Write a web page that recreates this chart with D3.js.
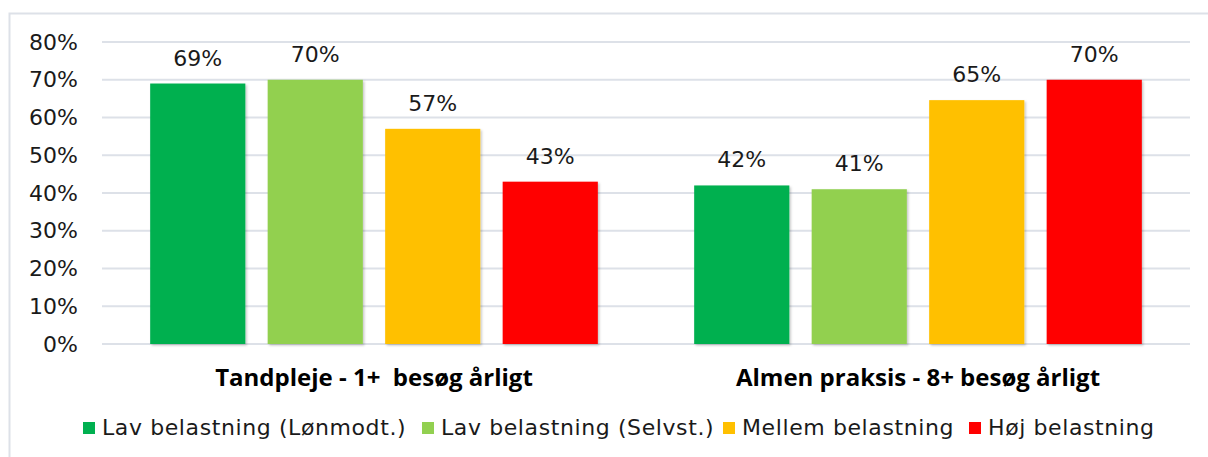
<!DOCTYPE html>
<html>
<head>
<meta charset="utf-8">
<script src="https://cdn.jsdelivr.net/npm/d3@7"></script>
<style>
  body { margin: 0; background: #fff; }
  svg { display: block; }
</style>
</head>
<body>
<div id="chart"></div>
<script>
  const width = 1208, height = 457;

  // data
  const categories = ["Tandpleje - 1+  besøg årligt", "Almen praksis - 8+ besøg årligt"];
  const series = ["Lav belastning (Lønmodt.)", "Lav belastning (Selvst.)", "Mellem belastning", "Høj belastning"];
  const colors = ["#00b050", "#92d050", "#ffc000", "#ff0000"];
  const values = [
    [69, 70, 57, 43],
    [42, 41, 64.6, 70]
  ];
  const yTicks = [0, 10, 20, 30, 40, 50, 60, 70, 80];
  const legendX = [83, 422, 723, 969];

  const margin = { top: 42, right: 18, bottom: 113, left: 102 };
  const numFont = '"DejaVu Sans", sans-serif';

  const svg = d3.select('#chart')
    .append('svg')
    .attr('width', width)
    .attr('height', height)
    .style('font-family', '"Open Sans", sans-serif');

  const defs = svg.append('defs');
  const f = defs.append('filter').attr('id', 'shadow')
    .attr('x', '-10%').attr('y', '-10%').attr('width', '130%').attr('height', '130%');
  f.append('feDropShadow').attr('dx', 1.5).attr('dy', 1.5).attr('stdDeviation', 1.2)
    .attr('flood-color', '#000').attr('flood-opacity', 0.22);

  // outer frame
  svg.append('rect')
    .attr('x', 9.5).attr('y', 13.5)
    .attr('width', width).attr('height', height)
    .attr('fill', 'none').attr('stroke', '#dde1e8').attr('stroke-width', 2);

  const x0 = d3.scaleBand()
    .domain(categories)
    .range([margin.left, width - margin.right]);

  const x1 = d3.scaleBand()
    .domain(series)
    .range([0, x0.bandwidth()])
    .paddingInner(0.19)
    .paddingOuter(0.41);

  const y = d3.scaleLinear()
    .domain([0, 80])
    .range([height - margin.bottom, margin.top]);

  // gridlines
  svg.append('g')
    .selectAll('line')
    .data(yTicks)
    .join('line')
    .attr('x1', margin.left).attr('x2', width - margin.right)
    .attr('y1', d => y(d)).attr('y2', d => y(d))
    .attr('stroke', '#dde1e8').attr('stroke-width', 2);

  // y axis labels
  const yAxis = svg.append('g')
    .attr('transform', `translate(${margin.left - 24},0)`)
    .call(d3.axisLeft(y).tickValues(yTicks).tickFormat(d => d + '%').tickSize(0).tickPadding(0));
  yAxis.select('.domain').remove();
  yAxis.selectAll('text')
    .attr('font-size', 22)
    .attr('font-family', numFont)
    .attr('fill', '#1a1a1a');

  // bars
  const groups = svg.append('g')
    .selectAll('g')
    .data(categories)
    .join('g')
    .attr('transform', d => `translate(${x0(d)},0)`);

  groups.selectAll('rect')
    .data((d, i) => values[i].map((v, j) => ({ s: series[j], v, c: colors[j] })))
    .join('rect')
    .attr('x', d => x1(d.s))
    .attr('y', d => y(d.v))
    .attr('width', x1.bandwidth())
    .attr('height', d => y(0) - y(d.v))
    .attr('fill', d => d.c)
    .attr('filter', 'url(#shadow)');

  groups.selectAll('text')
    .data((d, i) => values[i].map((v, j) => ({ s: series[j], v })))
    .join('text')
    .attr('x', d => x1(d.s) + x1.bandwidth() / 2)
    .attr('y', d => y(d.v) - 18)
    .attr('text-anchor', 'middle')
    .attr('font-size', 22)
    .attr('font-family', numFont)
    .attr('fill', '#1a1a1a')
    .text(d => Math.round(d.v) + '%');

  // category labels
  svg.append('g')
    .selectAll('text')
    .data(categories)
    .join('text')
    .attr('x', d => x0(d) + x0.bandwidth() / 2)
    .attr('y', 386)
    .attr('text-anchor', 'middle')
    .attr('font-size', 24)
    .attr('font-weight', 'bold')
    .attr('fill', '#000')
    .style('white-space', 'pre')
    .text(d => d);

  // legend
  const legend = svg.append('g')
    .selectAll('g')
    .data(series)
    .join('g')
    .attr('transform', (d, i) => `translate(${legendX[i]},428)`);

  legend.append('rect')
    .attr('x', 0).attr('y', -6)
    .attr('width', 12).attr('height', 12)
    .attr('fill', (d, i) => colors[i]);

  legend.append('text')
    .attr('x', 19).attr('y', 7)
    .attr('font-size', 22)
    .attr('font-family', numFont)
    .attr('letter-spacing', 0.6)
    .attr('fill', '#1a1a1a')
    .text(d => d);
</script>
</body>
</html>
